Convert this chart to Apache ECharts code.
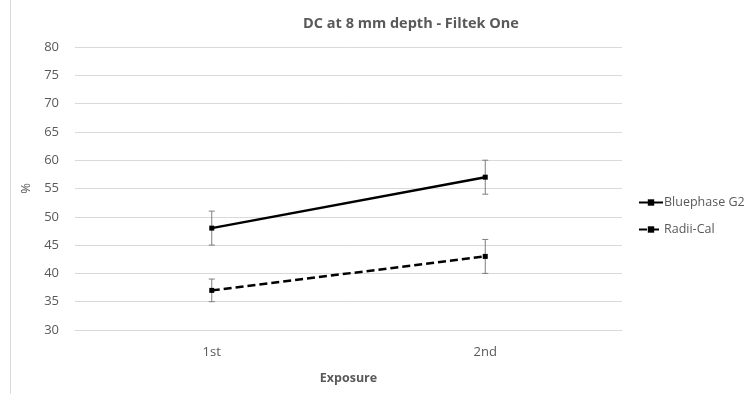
<!DOCTYPE html>
<html><head><meta charset="utf-8">
<script src="https://cdn.jsdelivr.net/npm/echarts@6/dist/echarts.min.js"></script>
<style>html,body{margin:0;padding:0;background:#fff}#c{width:755px;height:394px}</style>
</head><body><div id="c"></div>
<script>
const categories = ['1st', '2nd'];
const bluephase = [48, 57];
const bluephaseErr = [3, 3];
const radiical = [37, 43];
const radiicalErr = [2, 3];
const yTicks = [30, 35, 40, 45, 50, 55, 60, 65, 70, 75, 80];

const FONT = '"Open Sans", "Noto Sans", sans-serif';
const chart = echarts.init(document.getElementById('c'));

function errSeries(vals, errs) {
  return {
    type: 'custom',
    silent: true,
    z: 1,
    data: vals.map((v, i) => [i, v - errs[i], v + errs[i]]),
    renderItem: function (params, api) {
      const lo = api.coord([api.value(0), api.value(1)]);
      const hi = api.coord([api.value(0), api.value(2)]);
      const w = 3;
      const st = { stroke: '#7f7f7f', lineWidth: 1 };
      return {
        type: 'group',
        children: [
          { type: 'line', shape: { x1: lo[0], y1: lo[1], x2: hi[0], y2: hi[1] }, style: st },
          { type: 'line', shape: { x1: lo[0] - w, y1: lo[1], x2: lo[0] + w, y2: lo[1] }, style: st },
          { type: 'line', shape: { x1: hi[0] - w, y1: hi[1], x2: hi[0] + w, y2: hi[1] }, style: st }
        ]
      };
    }
  };
}

chart.setOption({
  animation: false,
  title: {
    text: 'DC at 8 mm depth - Filtek One',
    left: 406, top: 11, textAlign: 'center',
    textStyle: { fontFamily: FONT, fontSize: 14.5, fontWeight: 'bold', color: '#595959' }
  },
  graphic: [{
    type: 'line', shape: { x1: 10.5, y1: 0, x2: 10.5, y2: 394 },
    style: { stroke: '#d9d9d9', lineWidth: 1 }
  }],
  legend: {
    orient: 'vertical', left: 633, top: 191, itemGap: 14,
    itemWidth: 24, itemHeight: 8,
    textStyle: { fontFamily: FONT, fontSize: 12.5, color: '#595959', padding: [0, 0, 0, -4] },
    data: ['Bluephase G2', 'Radii-Cal']
  },
  grid: { left: 75, right: 133, top: 47, bottom: 64 },
  xAxis: {
    type: 'category', data: categories,
    name: 'Exposure', nameLocation: 'middle', nameGap: 42,
    nameTextStyle: { fontFamily: FONT, fontSize: 12.5, fontWeight: 'bold', color: '#595959' },
    axisLine: { lineStyle: { color: '#d9d9d9' } },
    axisTick: { show: false },
    axisLabel: { fontFamily: FONT, fontSize: 13, color: '#595959', margin: 16 }
  },
  yAxis: {
    type: 'value', min: yTicks[0], max: yTicks[yTicks.length - 1], interval: 5,
    name: '%', nameLocation: 'middle', nameGap: 40, nameRotate: 90,
    nameTextStyle: { fontFamily: FONT, fontSize: 13, color: '#595959' },
    axisLine: { show: false }, axisTick: { show: false },
    axisLabel: { fontFamily: FONT, fontSize: 13, color: '#595959', margin: 16 },
    splitLine: { lineStyle: { color: '#d9d9d9', width: 1 } }
  },
  series: [
    errSeries(bluephase, bluephaseErr),
    errSeries(radiical, radiicalErr),
    {
      name: 'Bluephase G2', type: 'line', data: bluephase, z: 3,
      symbol: 'rect', symbolSize: 5,
      itemStyle: { color: '#000' },
      lineStyle: { color: '#000', width: 2.5 }
    },
    {
      name: 'Radii-Cal', type: 'line', data: radiical, z: 3,
      symbol: 'rect', symbolSize: 5,
      itemStyle: { color: '#000' },
      lineStyle: { color: '#000', width: 2.5, type: [8, 4] }
    }
  ]
});
</script></body></html>
